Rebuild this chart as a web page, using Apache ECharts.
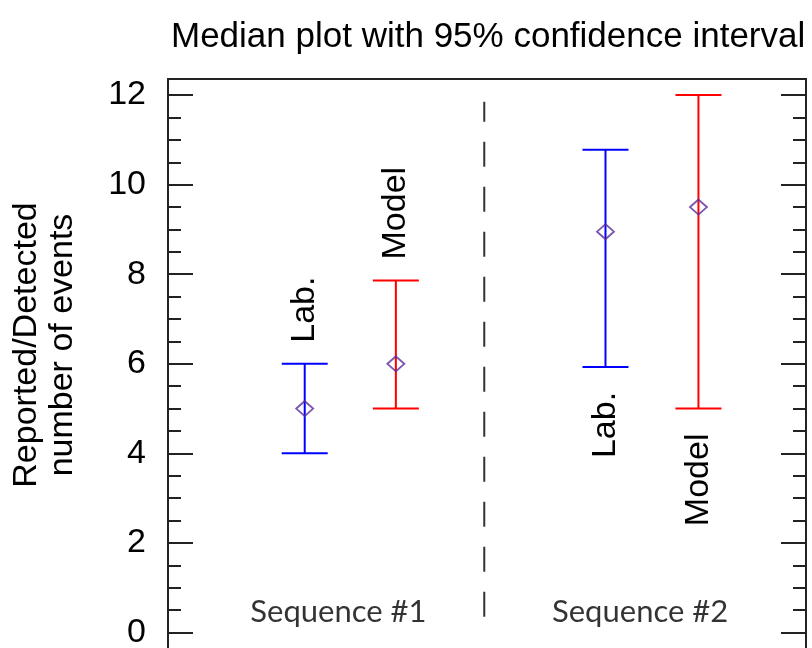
<!DOCTYPE html>
<html>
<head>
<meta charset="utf-8">
<script src="https://cdn.jsdelivr.net/npm/echarts@6/dist/echarts.min.js"></script>
<style>html,body{margin:0;padding:0;background:#fff;}#c{width:812px;height:648px;}</style>
</head>
<body>
<div id="c"></div>
<script>
// ---- data ----
var groupNames = ['Sequence #1', 'Sequence #2'];
var markNames = ['Lab.', 'Model', 'Lab.', 'Model'];
var markX = [1.5, 2.5, 4.8, 5.82];
var medians = [5, 6, 8.95, 9.5];
var lower = [4, 5, 5.93, 5];
var upper = [6, 7.86, 10.78, 12];
var labelSide = ['above', 'above', 'below', 'below'];
var groupLabelX = [1.87, 5.18];
var groupLabelY = 0.45;
var dividerX = 3.47;
var dividerY = [0.35, 11.85];
var yTicks = [0, 2, 4, 6, 8, 10, 12];

var colors = ['#0000ff', '#ff0000', '#0000ff', '#ff0000'];
var FONT = '"Liberation Sans", Arial, sans-serif';

var chart = echarts.init(document.getElementById('c'), null, {renderer: 'canvas'});

var barData = markX.map(function (x, i) { return [x, lower[i], upper[i], i]; });

function yAxisCfg(pos, major) {
  return {
    type: 'value', position: pos, min: -2, max: 12.36,
    interval: major ? 2 : 0.5,
    axisLine: {show: major && pos === 'left', lineStyle: {color: '#222', width: 2}},
    axisTick: {show: true, inside: true, length: major ? 25 : 13, lineStyle: {color: '#222', width: 2}},
    axisLabel: {
      show: major && pos === 'left', margin: 22, fontSize: 34, color: '#000', fontFamily: FONT,
      formatter: function (v) { return yTicks.indexOf(v) >= 0 ? String(v) : ''; }
    },
    splitLine: {show: false}
  };
}

var option = {
  animation: false,
  backgroundColor: '#fff',
  title: {
    text: 'Median plot with 95% confidence interval',
    left: 166, top: 15,
    textStyle: {fontFamily: FONT, fontSize: 35, fontWeight: 'normal', color: '#000'}
  },
  grid: {left: 168, top: 79, right: 6, bottom: -74, show: true, borderColor: '#222', borderWidth: 2,
         backgroundColor: 'transparent', containLabel: false, outerBoundsMode: 'none'},
  xAxis: {type: 'value', min: 0, max: 7, show: false},
  yAxis: [yAxisCfg('left', true), yAxisCfg('left', false), yAxisCfg('right', true), yAxisCfg('right', false)],
  graphic: [{
    type: 'text', x: 45, y: 345, rotation: Math.PI / 2,
    style: {text: 'Reported/Detected\nnumber of events', font: '34px ' + FONT, fill: '#000', align: 'center', verticalAlign: 'middle', lineHeight: 36}
  }],
  series: [
    {
      type: 'custom', xAxisIndex: 0, yAxisIndex: 0, data: barData,
      renderItem: function (params, api) {
        var i = api.value(3);
        var lo = api.coord([api.value(0), api.value(1)]);
        var hi = api.coord([api.value(0), api.value(2)]);
        var c = colors[i];
        var hw = 23;
        var ls = {stroke: c, lineWidth: 2};
        var children = [
          {type: 'line', shape: {x1: lo[0], y1: lo[1], x2: hi[0], y2: hi[1]}, style: ls},
          {type: 'line', shape: {x1: lo[0] - hw, y1: lo[1], x2: lo[0] + hw, y2: lo[1]}, style: ls},
          {type: 'line', shape: {x1: hi[0] - hw, y1: hi[1], x2: hi[0] + hw, y2: hi[1]}, style: ls}
        ];
        var above = labelSide[i] === 'above';
        children.push({
          type: 'text', x: hi[0], y: above ? hi[1] - 21 : lo[1] + 25, rotation: Math.PI / 2,
          style: {text: markNames[i], font: '34px ' + FONT, fill: '#000', align: above ? 'left' : 'right', verticalAlign: 'middle'}
        });
        return {type: 'group', children: children};
      },
      z: 2
    },
    {
      type: 'scatter', xAxisIndex: 0, yAxisIndex: 0,
      data: markX.map(function (x, i) { return [x, medians[i]]; }),
      symbol: 'diamond', symbolSize: [17, 15],
      itemStyle: {color: 'rgba(0,0,0,0)', borderColor: '#5a2a9a', borderWidth: 1.8},
      z: 3
    },
    {
      type: 'line', xAxisIndex: 0, yAxisIndex: 0,
      data: [[dividerX, dividerY[0]], [dividerX, dividerY[1]]],
      symbol: 'none', lineStyle: {color: '#333', width: 2, type: [25, 20]}
    },
    {
      type: 'scatter', xAxisIndex: 0, yAxisIndex: 0,
      data: groupLabelX.map(function (x, i) { return {value: [x, groupLabelY], name: groupNames[i]}; }),
      symbolSize: 0,
      label: {show: true, position: 'inside', formatter: '{b}', fontFamily: 'Lato, "Open Sans", sans-serif', fontSize: 31, color: '#000'}
    }
  ]
};
chart.setOption(option);
</script>
</body>
</html>
